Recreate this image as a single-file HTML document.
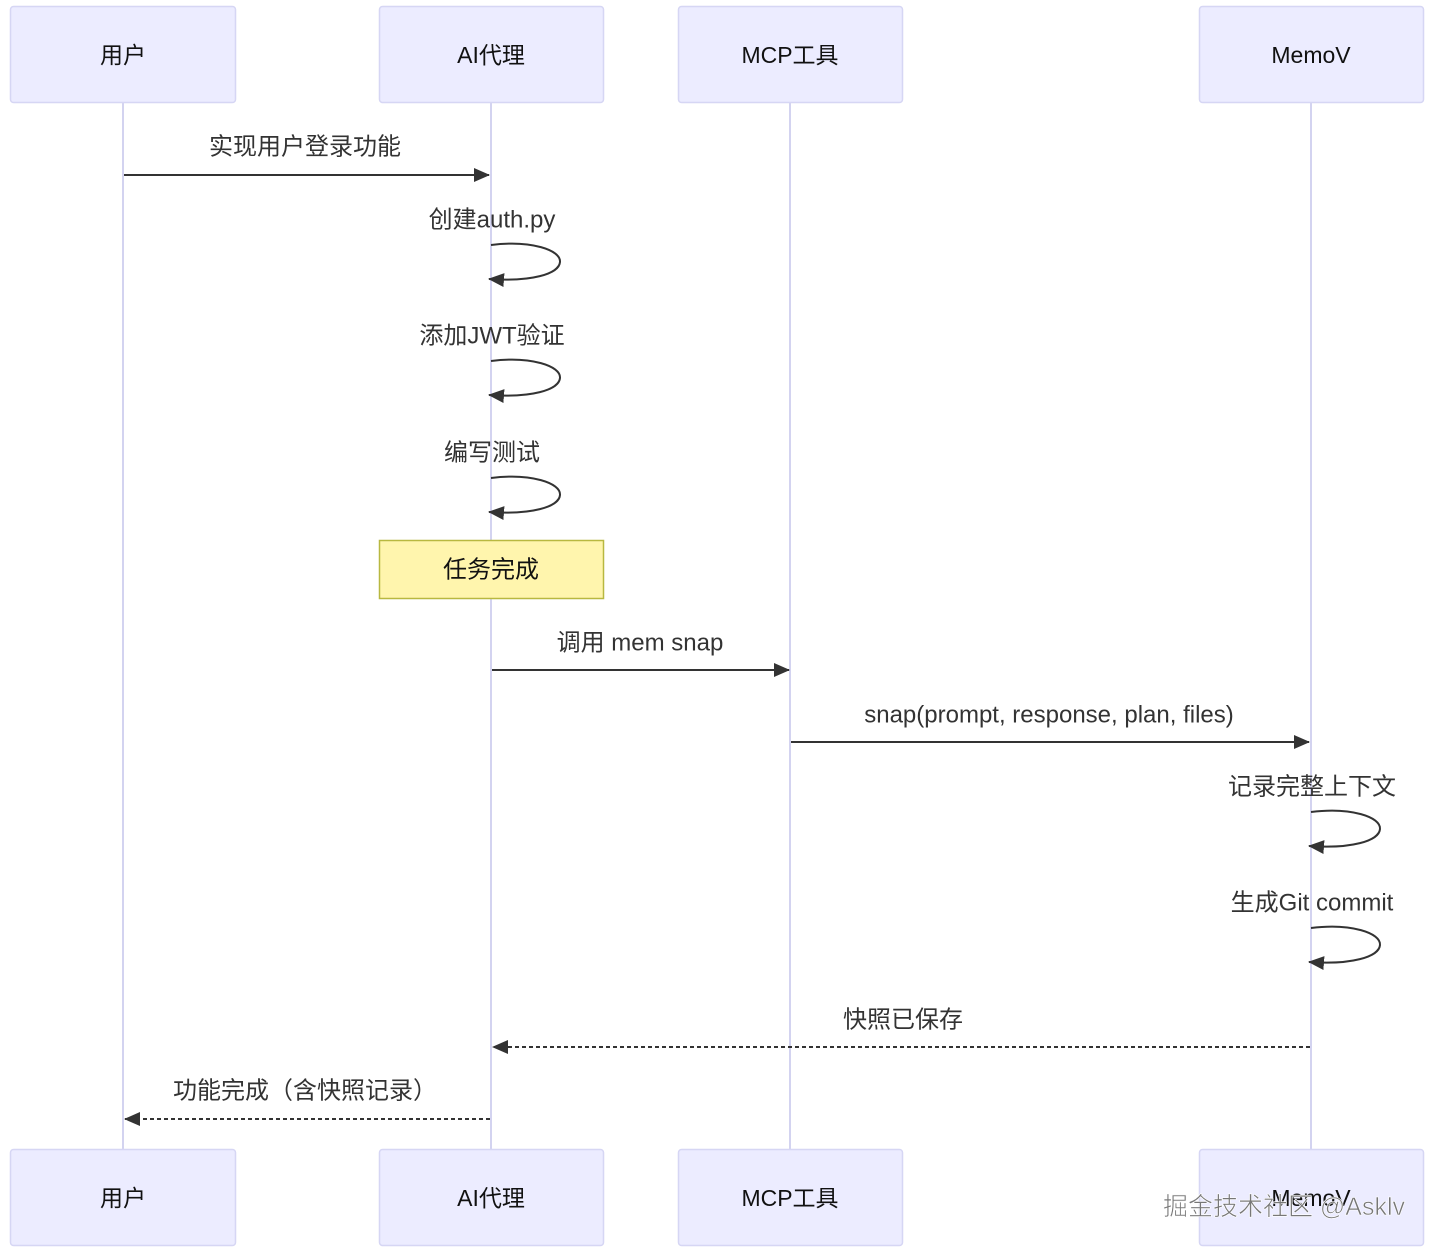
<!DOCTYPE html>
<html><head><meta charset="utf-8"><style>
html,body{margin:0;padding:0;background:#fff;}
svg{display:block;}
text{font-family:"Liberation Sans","Noto Sans CJK SC",sans-serif;}
</style></head><body>
<svg width="1440" height="1252" viewBox="0 0 1440 1252" xmlns="http://www.w3.org/2000/svg">
<defs>
<marker id="ah" markerWidth="16" markerHeight="16" refX="15" refY="8" orient="auto" markerUnits="userSpaceOnUse">
<path d="M0,1 L16,8 L0,15 z" fill="#333"/></marker>
</defs>
<g stroke="#d3d3f0" stroke-width="2">
<line x1="123" y1="102" x2="123" y2="1149"/>
<line x1="491" y1="102" x2="491" y2="1149"/>
<line x1="790" y1="102" x2="790" y2="1149"/>
<line x1="1311" y1="102" x2="1311" y2="1149"/>
</g>
<g fill="#ececff" stroke="#d6d6f4" stroke-width="1.5">
<rect x="10.5" y="6.5" width="225" height="96" rx="3"/>
<rect x="379.5" y="6.5" width="224" height="96" rx="3"/>
<rect x="678.5" y="6.5" width="224" height="96" rx="3"/>
<rect x="1199.5" y="6.5" width="224" height="96" rx="3"/>
<rect x="10.5" y="1149.5" width="225" height="96" rx="3"/>
<rect x="379.5" y="1149.5" width="224" height="96" rx="3"/>
<rect x="678.5" y="1149.5" width="224" height="96" rx="3"/>
<rect x="1199.5" y="1149.5" width="224" height="96" rx="3"/>
</g>
<g font-size="23" fill="#111" text-anchor="middle" dominant-baseline="central">
<text x="123" y="55">用户</text><text x="491" y="55">AI代理</text><text x="790" y="55">MCP工具</text><text x="1311" y="55">MemoV</text>
<text x="123" y="1198">用户</text><text x="491" y="1198">AI代理</text><text x="790" y="1198">MCP工具</text><text x="1311" y="1198">MemoV</text>
</g>
<rect x="379.5" y="540.5" width="224" height="58" fill="#fff5ad" stroke="#b8b840" stroke-width="1.5"/>
<g font-size="24" fill="#333" text-anchor="middle" dominant-baseline="central">
<text x="491" y="570" fill="#111">任务完成</text>
<text x="305" y="147">实现用户登录功能</text>
<text x="492" y="220">创建auth.py</text>
<text x="492" y="336">添加JWT验证</text>
<text x="492" y="453">编写测试</text>
<text x="640" y="643">调用 mem snap</text>
<text x="1049" y="715">snap(prompt, response, plan, files)</text>
<text x="1312" y="787">记录完整上下文</text>
<text x="1312" y="903">生成Git commit</text>
<text x="903" y="1020">快照已保存</text>
<text x="305" y="1091">功能完成（含快照记录）</text>
</g>
<g stroke="#333" stroke-width="2" fill="none">
<line x1="124" y1="175" x2="489" y2="175" marker-end="url(#ah)"/>
<path d="M491,245 C531,240 561,250 560,262 C559,274 531,282 489,279" marker-end="url(#ah)"/>
<path d="M491,361 C531,356 561,366 560,378 C559,390 531,398 489,395" marker-end="url(#ah)"/>
<path d="M491,478 C531,473 561,483 560,495 C559,507 531,515 489,512" marker-end="url(#ah)"/>
<line x1="492" y1="670" x2="789" y2="670" marker-end="url(#ah)"/>
<line x1="791" y1="742" x2="1309" y2="742" marker-end="url(#ah)"/>
<path d="M1311,812 C1351,807 1381,817 1380,829 C1379,841 1351,849 1309,846" marker-end="url(#ah)"/>
<path d="M1311,928 C1351,923 1381,933 1380,945 C1379,957 1351,965 1309,962" marker-end="url(#ah)"/>
<line x1="1310" y1="1047" x2="493" y2="1047" stroke-dasharray="4,3" marker-end="url(#ah)"/>
<line x1="490" y1="1119" x2="125" y2="1119" stroke-dasharray="4,3" marker-end="url(#ah)"/>
</g>
<text x="1284" y="1207" font-size="25" fill="#777" stroke="#fff" stroke-width="0.6" text-anchor="middle" dominant-baseline="central">掘金技术社区 @Asklv</text>
</svg>
</body></html>
